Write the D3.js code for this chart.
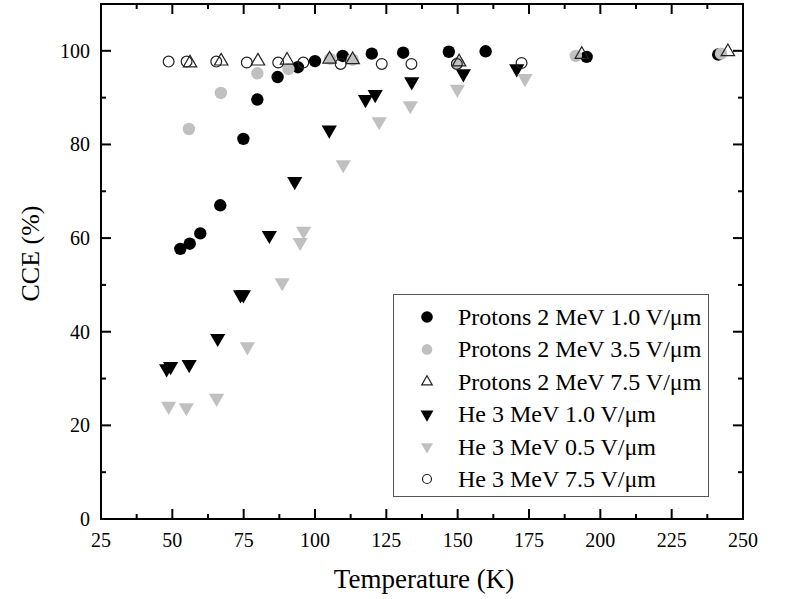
<!DOCTYPE html>
<html><head><meta charset="utf-8">
<script src="https://cdn.jsdelivr.net/npm/d3@7"></script>
<style>body{margin:0;background:#fff}svg{display:block}</style>
</head><body>
<svg id="c" width="785" height="599"></svg>
<script>
// ---- data ----
const xTicks = [25, 50, 75, 100, 125, 150, 175, 200, 225, 250];
const yTicks = [0, 20, 40, 60, 80, 100];
const seriesNames = ["Protons 2 MeV 1.0 V/\u03bcm", "Protons 2 MeV 3.5 V/\u03bcm", "Protons 2 MeV 7.5 V/\u03bcm",
                     "He 3 MeV 1.0 V/\u03bcm", "He 3 MeV 0.5 V/\u03bcm", "He 3 MeV 7.5 V/\u03bcm"];
const p10T = [52.8, 56.1, 59.8, 66.8, 74.9, 79.8, 86.9, 94.0, 100.0, 109.7, 119.9, 130.9, 146.9, 159.8, 195.2, 241.3];
const p10C = [57.7, 58.8, 61.0, 67.0, 81.2, 89.6, 94.4, 96.5, 97.8, 98.9, 99.4, 99.6, 99.8, 99.9, 98.7, 99.2];
const p35T = [55.8, 67.0, 79.8, 90.7, 105.3, 113.2, 150.1, 191.4, 242.3];
const p35C = [83.3, 91.0, 95.2, 96.1, 98.3, 98.1, 97.4, 98.9, 99.4];
const p75T = [56.2, 67.1, 80.0, 90.2, 105.1, 113.2, 150.5, 193.5, 244.7];
const p75C = [97.4, 97.8, 97.8, 98.0, 98.2, 98.1, 97.6, 99.2, 99.8];
const h10T = [48.0, 49.4, 55.9, 65.9, 73.9, 74.9, 84.0, 92.9, 105.0, 117.7, 121.1, 133.9, 152.0, 170.7];
const h10C = [32.1, 32.6, 33.0, 38.6, 47.9, 47.9, 60.6, 72.1, 83.1, 89.6, 90.7, 93.4, 95.1, 96.2];
const h05T = [48.7, 54.9, 65.5, 76.3, 88.5, 94.8, 96.0, 109.9, 122.5, 133.4, 149.9, 173.6];
const h05C = [24.1, 23.8, 25.8, 36.8, 50.5, 59.1, 61.5, 75.7, 84.9, 88.3, 91.8, 94.1];
const h75T = [48.7, 55.0, 65.4, 76.1, 87.1, 95.9, 109.0, 123.4, 133.8, 149.7, 172.4];
const h75C = [97.7, 97.7, 97.7, 97.5, 97.5, 97.5, 97.2, 97.2, 97.2, 97.2, 97.4];

// ---- layout ----
const W = 785, H = 599;
const m = {l: 101, r: 42, t: 4, b: 80};
const svg = d3.select("#c");
const x = d3.scaleLinear().domain([25, 250]).range([m.l, W - m.r]);
const y = d3.scaleLinear().domain([0, 110]).range([H - m.b, m.t]);
const FONT = "'Liberation Serif','Times New Roman',serif";
const GRAY = "#c0c0c0";

const zip = (a, b) => a.map((v, i) => [v, b[i]]);
const series = [
  {name: seriesNames[0], data: zip(p10T, p10C), type: "circle", fill: "#000", stroke: "none", r: 6.2, lr: 5.8},
  {name: seriesNames[1], data: zip(p35T, p35C), type: "circle", fill: GRAY, stroke: "none", r: 6.2, lr: 5.3},
  {name: seriesNames[2], data: zip(p75T, p75C), type: "up", fill: "none", stroke: "#222", s: 78, ls: 48},
  {name: seriesNames[3], data: zip(h10T, h10C), type: "down", fill: "#000", stroke: "none", s: 100, ls: 72},
  {name: seriesNames[4], data: zip(h05T, h05C), type: "down", fill: GRAY, stroke: "none", s: 100, ls: 62},
  {name: seriesNames[5], data: zip(h75T, h75C), type: "circle", fill: "none", stroke: "#222", r: 5.4, lr: 4.5}
];

function drawMark(g, d, sObj, legend) {
  if (sObj.type === "circle") {
    g.append("circle").attr("cx", d[0]).attr("cy", d[1])
      .attr("r", legend ? sObj.lr : sObj.r)
      .attr("fill", sObj.fill).attr("stroke", sObj.stroke).attr("stroke-width", 1.2);
  } else {
    const p = d3.symbol().type(d3.symbolTriangle).size(legend ? sObj.ls : sObj.s)();
    g.append("path").attr("d", p)
      .attr("transform", `translate(${d[0]},${d[1]}) rotate(${sObj.type === "down" ? 180 : 0})`)
      .attr("fill", sObj.fill).attr("stroke", sObj.stroke).attr("stroke-width", 1.2)
      .attr("stroke-linejoin", "miter");
  }
}

// points
const plot = svg.append("g");
series.forEach(s => {
  const g = plot.append("g");
  s.data.forEach(d => drawMark(g, [x(d[0]), y(d[1])], s, false));
});

// axes
const axG = svg.append("g").attr("font-family", FONT);
const x0 = x.range()[0], x1 = x.range()[1], y0 = y.range()[0], y1 = y.range()[1];
const minorX = d3.range(37.5, 250, 25);
const minorY = d3.range(10, 110, 20);
const tk = (x1_, y1_, x2_, y2_) => axG.append("line").attr("x1", x1_).attr("y1", y1_).attr("x2", x2_).attr("y2", y2_)
  .attr("stroke", "#000").attr("stroke-width", 2);
xTicks.forEach(v => { tk(x(v), y0, x(v), y0 - 10); tk(x(v), y1, x(v), y1 + 10); });
minorX.forEach(v => { tk(x(v), y0, x(v), y0 - 5); tk(x(v), y1, x(v), y1 + 5); });
yTicks.forEach(v => { tk(x0, y(v), x0 + 10, y(v)); tk(x1, y(v), x1 - 10, y(v)); });
minorY.forEach(v => { tk(x0, y(v), x0 + 5, y(v)); tk(x1, y(v), x1 - 5, y(v)); });
axG.append("rect").attr("x", x0).attr("y", y1).attr("width", x1 - x0).attr("height", y0 - y1)
  .attr("fill", "none").attr("stroke", "#000").attr("stroke-width", 2);

xTicks.forEach(v => axG.append("text").attr("x", x(v)).attr("y", y0 + 28).attr("text-anchor", "middle")
  .attr("font-size", 20).text(v));
yTicks.forEach(v => axG.append("text").attr("x", x0 - 11).attr("y", y(v) + 7).attr("text-anchor", "end")
  .attr("font-size", 20).text(v));

axG.append("text").attr("x", (x0 + x1) / 2 + 2).attr("y", 588).attr("text-anchor", "middle")
  .attr("font-size", 27).text("Temperature (K)");
axG.append("text").attr("transform", `translate(39,${(y0 + y1) / 2 - 8}) rotate(-90)`).attr("text-anchor", "middle")
  .attr("font-size", 26).text("CCE (%)");

// legend
const lg = svg.append("g").attr("font-family", FONT);
lg.append("rect").attr("x", 393.5).attr("y", 294.5).attr("width", 315).attr("height", 202)
  .attr("fill", "#fff").attr("stroke", "#555").attr("stroke-width", 1);
series.forEach((s, i) => {
  const cy = 317 + i * 32.4;
  drawMark(lg, [427, cy], s, true);
  lg.append("text").attr("x", 458).attr("y", cy + 8).attr("font-size", 24).text(s.name);
});
</script>
</body></html>
